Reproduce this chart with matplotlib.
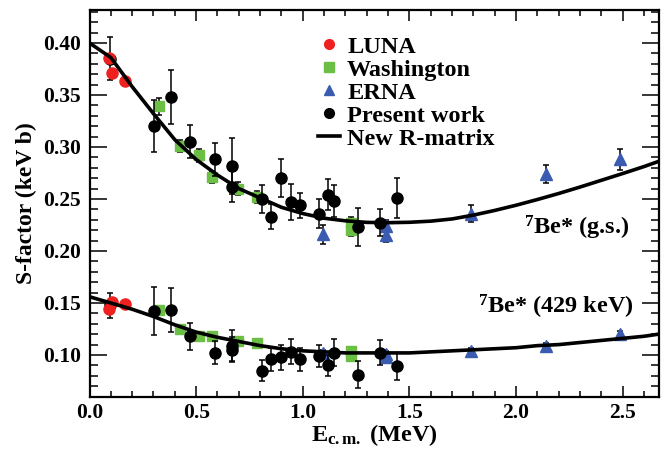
import matplotlib
matplotlib.use("Agg")
import matplotlib.pyplot as plt
from matplotlib.lines import Line2D

plt.rcParams['font.family'] = ['Liberation Serif', 'DejaVu Serif']
plt.rcParams['font.weight'] = 'bold'
plt.rcParams['axes.labelweight'] = 'bold'
plt.rcParams['mathtext.fontset'] = 'custom'
plt.rcParams['mathtext.rm'] = 'Liberation Serif:bold'
plt.rcParams['mathtext.it'] = 'Liberation Serif:bold:italic'
plt.rcParams['mathtext.bf'] = 'Liberation Serif:bold'

# ---------------- data ----------------
# LUNA
luna_up_x = [0.093, 0.104, 0.168]
luna_up_y = [0.386, 0.371, 0.363]
luna_lo_x = [0.093, 0.105, 0.168]
luna_lo_y = [0.144, 0.151, 0.149]

# Washington
wash_up_x = [0.325, 0.423, 0.514, 0.576, 0.697, 0.787, 1.225, 1.228]
wash_up_y = [0.339, 0.301, 0.292, 0.271, 0.260, 0.252, 0.227, 0.220]
wash_up_err = [0.008, 0.006, 0.006, 0.006, 0.006, 0.006, 0.006, 0.006]
wash_lo_x = [0.325, 0.423, 0.514, 0.576, 0.697, 0.787, 1.225, 1.228]
wash_lo_y = [0.143, 0.125, 0.118, 0.118, 0.113, 0.112, 0.104, 0.099]
wash_lo_err = [0.004, 0.003, 0.003, 0.003, 0.003, 0.003, 0.003, 0.003]

# ERNA
erna_up_x = [1.094, 1.391, 1.391, 1.790, 2.138, 2.488]
erna_up_y = [0.216, 0.224, 0.215, 0.236, 0.274, 0.288]
erna_up_err = [0.009, 0.006, 0.006, 0.008, 0.009, 0.010]
erna_lo_x = [1.094, 1.391, 1.391, 1.790, 2.138, 2.488]
erna_lo_y = [0.102, 0.101, 0.098, 0.104, 0.109, 0.120]
erna_lo_err = [0.003, 0.003, 0.003, 0.003, 0.003, 0.003]

# Present work
pres_x = [0.095, 0.301, 0.381, 0.471, 0.589, 0.667, 0.667, 0.808, 0.850,
          0.897, 0.945, 0.987, 1.076, 1.120, 1.145, 1.258, 1.363, 1.441]
pres_up_y = [0.385, 0.320, 0.348, 0.305, 0.288, 0.282, 0.262, 0.250, 0.233,
             0.270, 0.247, 0.244, 0.236, 0.254, 0.248, 0.223, 0.227, 0.251]
pres_up_err = [0.021, 0.025, 0.026, 0.016, 0.016, 0.027, 0.015, 0.013, 0.012,
               0.018, 0.017, 0.012, 0.014, 0.015, 0.015, 0.018, 0.013, 0.019]
pres_lo_y = [0.148, 0.142, 0.143, 0.118, 0.102, 0.109, 0.105, 0.085, 0.096,
             0.098, 0.103, 0.096, 0.099, 0.090, 0.102, 0.081, 0.102, 0.089]
pres_lo_err = [0.012, 0.023, 0.021, 0.013, 0.011, 0.015, 0.012, 0.010, 0.011,
               0.012, 0.012, 0.011, 0.011, 0.010, 0.013, 0.013, 0.012, 0.013]

# New R-matrix curves
rm_x = [0.0, 0.1, 0.2, 0.3, 0.4, 0.5, 0.6, 0.7, 0.8, 0.9, 1.0, 1.1, 1.2, 1.3,
        1.4, 1.5, 1.6, 1.7, 1.8, 1.9, 2.0, 2.1, 2.2, 2.3, 2.4, 2.5, 2.6, 2.7]
rm_gs = [0.400, 0.386, 0.358, 0.332, 0.307, 0.288, 0.273, 0.260, 0.251, 0.242,
         0.236, 0.2315, 0.2290, 0.2275, 0.2272, 0.2276, 0.2287, 0.2308, 0.2345,
         0.2390, 0.2440, 0.2495, 0.2553, 0.2615, 0.2680, 0.2745, 0.2812, 0.2885]
rm_429 = [0.156, 0.150, 0.144, 0.137, 0.129, 0.122, 0.117, 0.113, 0.109, 0.106,
          0.104, 0.103, 0.102, 0.102, 0.102, 0.102, 0.103, 0.104, 0.105, 0.106,
          0.107, 0.109, 0.110, 0.112, 0.114, 0.116, 0.118, 0.121]

xticks = [0.0, 0.5, 1.0, 1.5, 2.0, 2.5]
yticks = [0.10, 0.15, 0.20, 0.25, 0.30, 0.35, 0.40]

RED = '#ee2020'
GREEN = '#6cbf45'
BLUE = '#3a5bb0'

# ---------------- figure ----------------
fig = plt.figure(figsize=(6.65, 4.49), dpi=100)
ax = fig.add_axes([0.1346, 0.1158, 0.8564, 0.8619])

eb = dict(ecolor='black', elinewidth=1.1, capsize=2.2, capthick=1.1, linestyle='none')

for xs, ys, es in [(wash_up_x, wash_up_y, wash_up_err), (wash_lo_x, wash_lo_y, wash_lo_err)]:
    ax.errorbar(xs, ys, yerr=es, marker='s', ms=7.5, mfc=GREEN, mec=GREEN, zorder=2, **eb)
for xs, ys, es in [(erna_up_x, erna_up_y, erna_up_err), (erna_lo_x, erna_lo_y, erna_lo_err)]:
    ax.errorbar(xs, ys, yerr=es, marker='^', ms=8, mfc=BLUE, mec=BLUE, zorder=2, **eb)
for ys, es in [(pres_up_y, pres_up_err), (pres_lo_y, pres_lo_err)]:
    ax.errorbar(pres_x, ys, yerr=es, marker='o', ms=8, mfc='black', mec='black', zorder=3, **eb)
ax.plot(luna_up_x, luna_up_y, 'o', ms=8, color=RED, zorder=4)
ax.plot(luna_lo_x, luna_lo_y, 'o', ms=8, color=RED, zorder=4)

ax.plot(rm_x, rm_gs, color='black', lw=2.6, zorder=5, solid_capstyle='butt')
ax.plot(rm_x, rm_429, color='black', lw=2.6, zorder=5, solid_capstyle='butt')

ax.set_xlim(0, 2.67)
ax.set_ylim(0.0596, 0.4317)
ax.set_xticks(xticks)
ax.set_xticklabels([f"{v:.1f}" for v in xticks])
ax.set_yticks(yticks)
ax.set_yticklabels([f"{v:.2f}" for v in yticks])
ax.set_xticks([i / 10 for i in range(0, 27)], minor=True)
ax.set_yticks([i / 100 for i in range(6, 44)], minor=True)

ax.tick_params(axis='both', which='both', direction='in', top=True, right=True,
               width=1.1, labelsize=15.5)
ax.tick_params(axis='y', which='major', length=12, pad=6)
ax.tick_params(axis='y', which='minor', length=6)
ax.tick_params(axis='x', which='major', length=8, pad=4)
ax.tick_params(axis='x', which='minor', length=4)
for s in ax.spines.values():
    s.set_linewidth(1.6)

ax.set_ylabel('S-factor (keV b)', fontsize=17, fontweight='bold', va='center')
ax.yaxis.set_label_coords(-0.11, 0.5)
ax.set_xlabel(r'E$_{\mathrm{c.m.}}$ (MeV)', fontsize=17.5, fontweight='bold', va='top')
ax.xaxis.set_label_coords(0.5, -0.066)

ax.text(2.53, 0.222, r'$^{7}$Be* (g.s.)', fontsize=17.5, ha='right', va='center')
ax.text(2.55, 0.146, r'$^{7}$Be* (429 keV)', fontsize=17.5, ha='right', va='center')

handles = [
    Line2D([], [], ls='none', marker='o', ms=7, color=RED),
    Line2D([], [], ls='none', marker='s', ms=6.5, color=GREEN),
    Line2D([], [], ls='none', marker='^', ms=7, color=BLUE),
    Line2D([], [], ls='none', marker='o', ms=7, color='black'),
    Line2D([], [], color='black', lw=2.6),
]
labels = ['LUNA', 'Washington', 'ERNA', 'Present work', 'New R-matrix']
ax.legend(handles, labels, loc='upper left', bbox_to_anchor=(0.401, 0.933),
          frameon=False, fontsize=17.5, borderaxespad=0, borderpad=0,
          handlelength=0.9, handletextpad=0.3, labelspacing=0.04)

fig.savefig('out.png', dpi=100)
